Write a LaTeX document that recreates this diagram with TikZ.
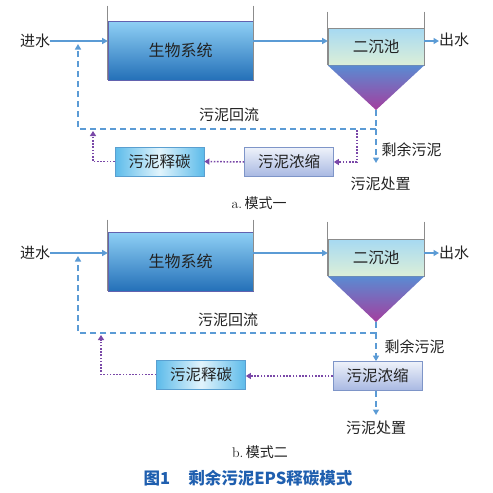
\documentclass[tikz,border=0pt]{standalone}
\usepackage{fontspec}
\newfontfamily\cjk{Noto Sans CJK SC}
\usetikzlibrary{arrows.meta}
\definecolor{flowblue}{HTML}{5B9BD5}
\definecolor{carbpurp}{HTML}{7A48A8}
\definecolor{txtc}{HTML}{222222}
\definecolor{wallc}{HTML}{8C8C8C}
\definecolor{capblue}{HTML}{1F5FAF}
\definecolor{biotop}{HTML}{8FD0F5}
\definecolor{biobot}{HTML}{2470B8}
\definecolor{clartop}{HTML}{A6D9F2}
\definecolor{clarbot}{HTML}{DCEFD8}
\definecolor{conetop}{HTML}{5A8BD2}
\definecolor{conebot}{HTML}{A43E9E}
\definecolor{relside}{HTML}{5CBBEA}
\definecolor{relmid}{HTML}{E2F4FC}
\definecolor{relborder}{HTML}{5A9FD0}
\definecolor{thktop}{HTML}{EEF2FA}
\definecolor{thkbot}{HTML}{A8B8E2}
\definecolor{thkborder}{HTML}{7E95C8}
\tikzset{
  lbl/.style={font=\cjk\fontsize{15}{17}\selectfont, text=txtc, inner sep=0pt},
  biobox/.style={draw=wallc!70!blue, line width=0.6pt, top color=biotop, bottom color=biobot, minimum width=145pt, minimum height=59pt, inner sep=0pt, font=\cjk\fontsize{16}{18}\selectfont, text=txtc},
  clarbox/.style={draw=wallc, line width=0.6pt, top color=clartop, bottom color=clarbot, minimum width=96pt, minimum height=37pt, inner sep=0pt, font=\cjk\fontsize{15.5}{17}\selectfont, text=txtc},
  relbox/.style={draw=relborder, line width=0.7pt, left color=relside, right color=relside, middle color=relmid, minimum width=89pt, minimum height=29pt, inner sep=0pt, font=\cjk\fontsize{15.5}{17}\selectfont, text=txtc},
  thkbox/.style={draw=thkborder, line width=0.7pt, top color=thktop, bottom color=thkbot, minimum width=89pt, minimum height=29pt, inner sep=0pt, font=\cjk\fontsize{15.5}{17}\selectfont, text=txtc},
  wall/.style={draw=wallc, line width=0.7pt},
  flow/.style={draw=flowblue, line width=1.3pt, -{Triangle[length=5.5pt,width=6pt]}},
  retline/.style={draw=flowblue, line width=1.3pt, dash pattern=on 6pt off 4pt},
  carbon/.style={draw=carbpurp, line width=1.5pt, dash pattern=on 1.6pt off 1.6pt, -{Triangle[length=5pt,width=6pt]}},
  cone/.style={top color=conetop, bottom color=conebot}
}
\begin{document}
\begin{tikzpicture}[x=1pt,y=-1pt]
\useasboundingbox (0,0) rectangle (493,493);
\fill[white] (0,0) rectangle (493,493);

% ================= Panel a =================
\node[lbl] (in1) at (35,41) {进水};
\node[biobox] (bio1) at (180.5,50.5) {生物系统};
\draw[wall] ([yshift=15pt]bio1.north west) -- (bio1.south west);
\draw[wall] ([yshift=15pt]bio1.north east) -- (bio1.south east);
\node[clarbox] (clar1) at (376,46.5) {二沉池};
\draw[wall] ([yshift=16pt]clar1.north west) -- (clar1.south west);
\draw[wall] ([yshift=16pt]clar1.north east) -- (clar1.south east);
\coordinate (apex1) at (376,110);
\shade[cone] (clar1.south west) -- (clar1.south east) -- (apex1) -- cycle;
\node[lbl, anchor=west] (out1) at (439,40) {出水};
\draw[flow] (in1.east |- 0,41) -- (bio1.west |- 0,41);
\draw[flow] (bio1.east |- 0,41) -- (clar1.west |- 0,41);
\draw[flow] (clar1.east |- 0,41) -- (out1.west |- 0,41);

\coordinate (sink1) at (376,163);
\coordinate (jr1) at (376,129);
\coordinate (jl1) at (78,129);
\coordinate (ret1) at (78,44);
\draw[retline] (apex1) -- (jr1);
\draw[retline, -{Triangle[length=5.5pt,width=6pt]}] (jr1) -- (sink1);
\draw[retline, -{Triangle[length=5.5pt,width=6pt]}] (jr1) -- (jl1) -- (ret1);
\node[lbl] (hl1) at (229,115) {污泥回流};
\node[lbl] (sy1) at (411.5,150) {剩余污泥};
\node[lbl] (cz1) at (380.5,184) {污泥处置};

\node[thkbox] (nc1) at (289,162) {污泥浓缩};
\node[relbox] (sc1) at (159.5,161.5) {污泥释碳};
\coordinate (pt1) at (357,130);
\coordinate (pb1) at (93,131);
\draw[carbon] (pt1) -- (pt1 |- nc1.east) -- (nc1.east);
\draw[carbon] (nc1.west) -- (sc1.east);
\draw[carbon] (sc1.west) -- (pb1 |- sc1.west) -- (pb1);
\node[font=\fontsize{14}{16}\selectfont, text=txtc, inner sep=0pt] (capa) at (259,203) {a.\,{\cjk 模式一}};

% ================= Panel b =================
\node[lbl] (in2) at (35,253) {进水};
\node[biobox] (bio2) at (180.5,261.5) {生物系统};
\draw[wall] ([yshift=12pt]bio2.north west) -- (bio2.south west);
\draw[wall] ([yshift=12pt]bio2.north east) -- (bio2.south east);
\node[clarbox] (clar2) at (376,257.5) {二沉池};
\draw[wall] ([yshift=17pt]clar2.north west) -- (clar2.south west);
\draw[wall] ([yshift=17pt]clar2.north east) -- (clar2.south east);
\coordinate (apex2) at (376,322);
\shade[cone] (clar2.south west) -- (clar2.south east) -- (apex2) -- cycle;
\node[lbl, anchor=west] (out2) at (439,253) {出水};
\draw[flow] (in2.east |- 0,253) -- (bio2.west |- 0,253);
\draw[flow] (bio2.east |- 0,253) -- (clar2.west |- 0,253);
\draw[flow] (clar2.east |- 0,253) -- (out2.west |- 0,253);

\node[thkbox] (nc2) at (377.5,376) {污泥浓缩};
\node[relbox] (sc2) at (201,374.5) {污泥释碳};
\coordinate (jr2) at (376,333);
\coordinate (jl2) at (78,333);
\coordinate (ret2) at (78,256);
\draw[retline] (apex2) -- (jr2);
\draw[retline, -{Triangle[length=5.5pt,width=6pt]}] (jr2) -- (jr2 |- nc2.north);
\draw[retline, -{Triangle[length=5.5pt,width=6pt]}] (jr2) -- (jl2) -- (ret2);
\coordinate (sink2) at (376,415);
\draw[retline, -{Triangle[length=5.5pt,width=6pt]}] (sink2 |- nc2.south) -- (sink2);
\node[lbl] (hl2) at (228,320) {污泥回流};
\node[lbl] (sy2) at (414.5,347) {剩余污泥};
\node[lbl] (cz2) at (376,428) {污泥处置};

\coordinate (pb2) at (101,335);
\draw[carbon] (nc2.west) -- (sc2.east |- nc2.west);
\draw[carbon] (sc2.west) -- (pb2 |- sc2.west) -- (pb2);
\node[font=\fontsize{14}{16}\selectfont, text=txtc, inner sep=0pt] (capb) at (260,452) {b.\,{\cjk 模式二}};

% ================= Caption =================
\node[font=\cjk\bfseries\fontsize{16.5}{18}\selectfont, text=capblue, inner sep=0pt] (cap) at (248,478) {图1\hspace{1.1em}剩余污泥EPS释碳模式};
\end{tikzpicture}
\end{document}
